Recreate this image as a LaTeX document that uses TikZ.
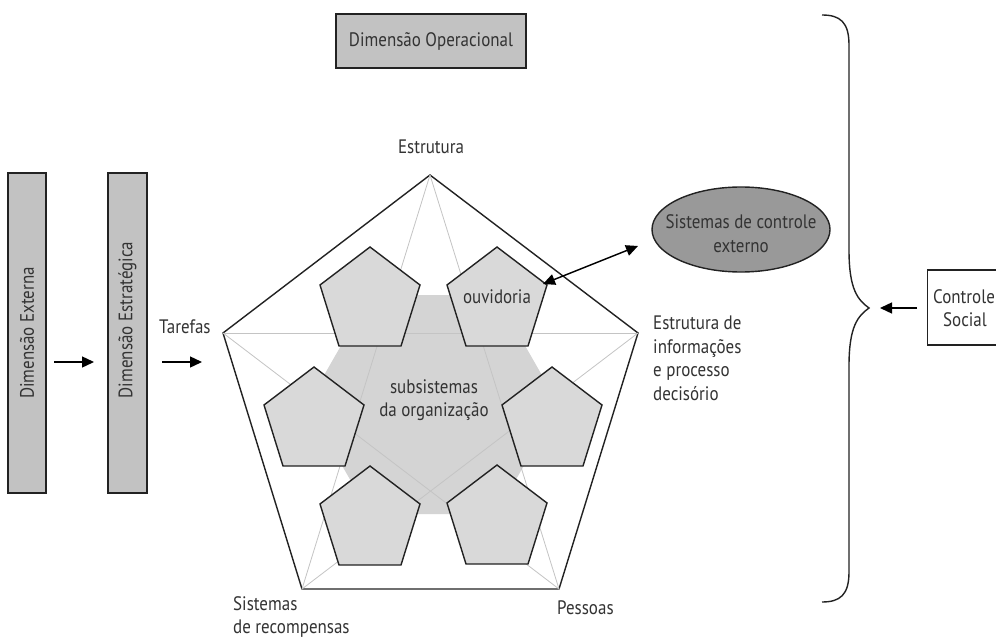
\documentclass[tikz,border=0pt]{standalone}
\usepackage{fontspec}
\setmainfont[FakeStretch=0.87]{PT Sans}
\usetikzlibrary{arrows.meta,shapes.geometric}
\definecolor{txt}{HTML}{333333}
\definecolor{boxgray}{HTML}{C2C2C2}
\definecolor{pentgray}{HTML}{D9D9D9}
\definecolor{hexgray}{HTML}{D4D4D4}
\definecolor{ellgray}{HTML}{999999}
\definecolor{stargray}{HTML}{C4C4C4}
\definecolor{edge}{HTML}{222222}
\tikzset{
  lbl/.style={text=txt, inner sep=0pt, font=\fontsize{19.5}{23.5}\selectfont},
  graybox/.style={draw=edge, line width=1.4pt, fill=boxgray, inner sep=0pt},
  pentline/.style={draw=edge, line width=1.4pt, fill=pentgray, line join=miter},
  starline/.style={draw=stargray, line width=0.8pt},
  arr/.style={line width=1.4pt, draw=black, -{Triangle[length=12pt,width=11pt]}},
  darr/.style={line width=1.4pt, draw=black, {Triangle[length=12pt,width=11pt]}-{Triangle[length=12pt,width=11pt]}},
  spent/.pic={\path[pentline] (0,-53) -- (50,-15) -- (31,46) -- (-31,46) -- (-50,-15) -- cycle;}
}
\begin{document}
\begin{tikzpicture}[x=1pt,y=-1pt]
\useasboundingbox[fill=white] (0,0) rectangle (996,639);

% top box
\node[graybox, minimum width=190pt, minimum height=54pt, lbl] (op) at (431,41) {Dimensão Operacional};

% left boxes
\node[graybox, minimum width=38pt, minimum height=320pt] (ext) at (27,333) {};
\node[lbl, rotate=90] (extT) at (27,333) {Dimensão Externa};
\node[graybox, minimum width=39pt, minimum height=320pt] (est) at (127.5,333) {};
\node[lbl, rotate=90] (estT) at (127.5,320) {Dimensão Estratégica};

\coordinate (a1s) at (54,362);
\coordinate (a1e) at (94,362);
\draw[arr] (a1s) -- (a1e);
\coordinate (a2s) at (162,362);
\coordinate (a2e) at (202,362);
\draw[arr] (a2s) -- (a2e);
\node[lbl, anchor=west] (tar) at (159,327) {Tarefas};

% outer pentagon
\coordinate (T) at (430,175);
\coordinate (L) at (223,333);
\coordinate (R) at (638,333);
\coordinate (BL) at (302,589);
\coordinate (BR) at (559,589);
\draw[edge, line width=1.4pt, line join=miter] (T) -- (R) -- (BR) -- (BL) -- (L) -- cycle;

% central hexagon
\fill[hexgray] (370,295) -- (496,295) -- (559,405) -- (496,514) -- (370,514) -- (307,405) -- cycle;

% pentagram
\draw[starline] (T) -- (BL);
\draw[starline] (T) -- (BR);
\draw[starline] (L) -- (R);
\draw[starline] (L) -- (BR);
\draw[starline] (R) -- (BL);

% small pentagons
\pic at (370,300) {spent};
\pic at (497,300) {spent};
\pic at (314,420) {spent};
\pic at (552,420) {spent};
\pic at (370,519) {spent};
\pic at (497,518) {spent};

\node[lbl] (ouv) at (497,297) {ouvidoria};
\node[lbl, align=center] (sub) at (434,400) {subsistemas\\da organização};

% labels of outer pentagon
\node[lbl] (estr) at (431,147) {Estrutura};
\node[lbl, anchor=north west, align=left] (info) at (653,316) {Estrutura de\\informações\\e processo\\decisório};
\node[lbl, anchor=north west, align=left] (sist) at (233,596) {Sistemas\\de recompensas};
\node[lbl, anchor=west] (pes) at (557,608) {Pessoas};

% ellipse
\node[ellipse, draw=edge, line width=1.4pt, fill=ellgray, minimum width=178pt, minimum height=85pt, inner sep=0pt] (sce) at (741,229.5) {};
\node[lbl, align=center] (sceT) at (741,233.5) {Sistemas de controle\\externo};
\coordinate (ouvTip) at (543,284);
\coordinate (sceTip) at (638,246);
\draw[darr] (ouvTip) -- (sceTip);

% brace
\draw[draw=edge, line width=1.4pt] (822,15) .. controls (840,15) and (849,22) .. (849,45)
  -- (849,250) .. controls (849,290) and (858,300) .. (869,308)
  .. controls (858,316) and (849,326) .. (849,366)
  -- (849,572) .. controls (849,595) and (840,602) .. (822,602);
\coordinate (braceTip) at (869,308);

% controle social
\node[draw=edge, line width=1.2pt, minimum width=90pt, minimum height=75pt, anchor=west] (cs) at (927,307.5) {};
\node[lbl, anchor=west] (csT1) at (933,297) {Controle};
\node[lbl] (csT2) at (965,320) {Social};
\coordinate (csTail) at (917,308);
\coordinate (csTip) at (880,308);
\draw[arr] (csTail) -- (csTip);
\end{tikzpicture}
\end{document}
